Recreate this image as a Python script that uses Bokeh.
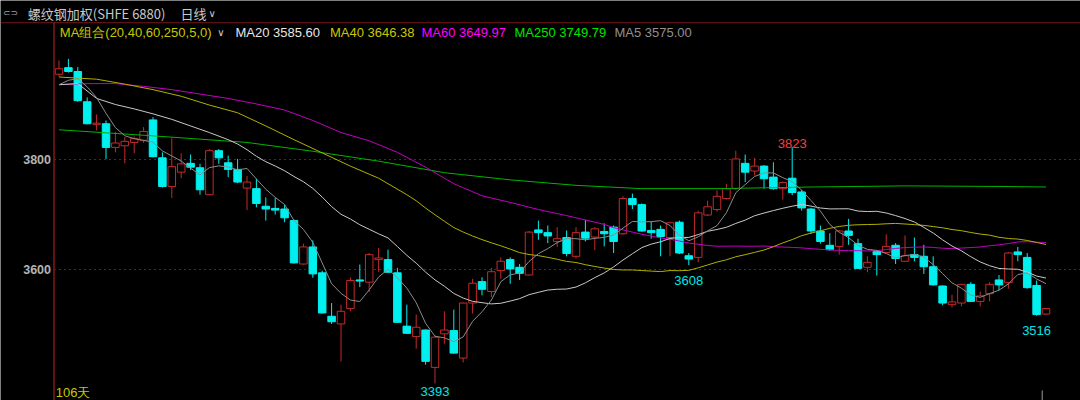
import numpy as np
from bokeh.plotting import figure
from bokeh.models import Range1d, ColumnDataSource, Label, BoxAnnotation
from bokeh.core.properties import value
from bokeh.embed import file_html
from bokeh.resources import INLINE

# ---------------- data ----------------
opens = [3955, 3967, 3960, 3905, 3864, 3865, 3822, 3825, 3831, 3835,
         3872, 3803, 3751, 3777, 3793, 3785, 3736, 3816, 3794, 3782,
         3748, 3747, 3715, 3711, 3710, 3689, 3610, 3641, 3594, 3515,
         3501, 3529, 3581, 3577, 3618, 3618, 3594, 3497, 3478, 3490,
         3422, 3483, 3489, 3439, 3539, 3578, 3560, 3598, 3618, 3604,
         3590, 3672, 3667, 3651, 3658, 3624, 3668, 3659, 3669, 3677,
         3665, 3729, 3718, 3671, 3673, 3658, 3686, 3625, 3622, 3699,
         3709, 3729, 3747, 3793, 3779, 3788, 3768, 3747, 3766, 3741,
         3710, 3670, 3644, 3642, 3670, 3647, 3604, 3633, 3631, 3644,
         3615, 3627, 3624, 3605, 3570, 3536, 3539, 3573, 3542, 3556,
         3581, 3576, 3632, 3622, 3571, 3519]
highs = [3980, 3983, 3968, 3913, 3882, 3871, 3850, 3841, 3842, 3859,
         3877, 3813, 3839, 3811, 3809, 3792, 3819, 3819, 3807, 3801,
         3770, 3765, 3731, 3730, 3718, 3691, 3647, 3653, 3598, 3539,
         3536, 3586, 3609, 3630, 3639, 3636, 3603, 3536, 3518, 3491,
         3480, 3524, 3527, 3540, 3583, 3586, 3603, 3622, 3622, 3610,
         3670, 3689, 3680, 3677, 3671, 3677, 3690, 3677, 3684, 3680,
         3733, 3738, 3720, 3687, 3680, 3687, 3689, 3630, 3707, 3725,
         3744, 3756, 3816, 3809, 3803, 3790, 3795, 3760, 3823, 3745,
         3712, 3680, 3666, 3672, 3692, 3656, 3624, 3635, 3664, 3648,
         3662, 3658, 3645, 3624, 3571, 3554, 3574, 3577, 3560, 3577,
         3590, 3632, 3641, 3630, 3580, 3530]
lows = [3951, 3958, 3905, 3864, 3853, 3801, 3813, 3793, 3811, 3830,
        3804, 3749, 3730, 3766, 3781, 3736, 3735, 3792, 3768, 3757,
        3708, 3713, 3689, 3700, 3686, 3611, 3609, 3585, 3520, 3501,
        3433, 3524, 3568, 3559, 3596, 3594, 3503, 3483, 3456, 3427,
        3393, 3465, 3447, 3431, 3520, 3553, 3550, 3583, 3574, 3581,
        3589, 3654, 3648, 3641, 3624, 3620, 3651, 3635, 3642, 3630,
        3663, 3710, 3668, 3656, 3624, 3624, 3628, 3608, 3613, 3697,
        3705, 3727, 3745, 3759, 3771, 3747, 3745, 3727, 3735, 3707,
        3665, 3647, 3634, 3627, 3645, 3601, 3595, 3589, 3630, 3610,
        3614, 3615, 3592, 3571, 3535, 3531, 3533, 3541, 3533, 3542,
        3562, 3565, 3615, 3565, 3516, 3517]
closes = [3965, 3960, 3907, 3865, 3866, 3822, 3830, 3833, 3838, 3851,
          3805, 3751, 3787, 3792, 3786, 3745, 3816, 3803, 3782, 3759,
          3759, 3720, 3710, 3708, 3694, 3612, 3641, 3592, 3521, 3505,
          3524, 3580, 3579, 3627, 3621, 3595, 3504, 3484, 3495, 3433,
          3477, 3490, 3448, 3539, 3575, 3564, 3596, 3615, 3601, 3593,
          3668, 3667, 3661, 3656, 3629, 3667, 3657, 3674, 3665, 3651,
          3729, 3718, 3670, 3667, 3660, 3685, 3630, 3619, 3703, 3714,
          3733, 3747, 3801, 3777, 3788, 3765, 3747, 3758, 3740, 3712,
          3670, 3651, 3636, 3670, 3662, 3602, 3613, 3627, 3642, 3620,
          3625, 3622, 3605, 3572, 3539, 3541, 3573, 3542, 3552, 3573,
          3572, 3630, 3627, 3567, 3518, 3529]

# moving-average values before each window is complete
ma5_head_idx = [0, 1, 2, 3]
ma5_head_val = [3936, 3944, 3947, 3932]
ma20_head_idx = [0, 2, 4, 6, 8, 10, 12, 14, 16, 18]
ma20_head_val = [3936, 3938, 3911, 3900, 3892, 3883, 3873, 3861, 3849, 3836]
ma40_head_idx = [0, 4, 7, 10, 13, 16, 19, 22, 25, 28, 31, 34, 37, 38]
ma40_head_val = [3950, 3946, 3937, 3927, 3915, 3899, 3885, 3861, 3836, 3812, 3788, 3766, 3736, 3725]
ma60_head_idx = [0, 3, 6, 9, 12, 15, 18, 21, 24, 27, 30, 33, 36, 39, 42, 45, 48, 51, 54, 57, 58]
ma60_head_val = [3936, 3938, 3938, 3933, 3927, 3919, 3911, 3901, 3890, 3871, 3849, 3834, 3813,
                 3786, 3756, 3734, 3722, 3709, 3698, 3686, 3682]
ma250_idx = [0, 10, 20, 27, 34, 41, 48, 55, 62, 70, 80, 90, 100, 105]
ma250_val = [3854, 3843, 3831, 3815, 3797, 3776, 3763, 3753, 3747, 3747, 3750, 3752, 3751, 3750]

ytick_values = [3600, 3800]
title_text = "螺纹钢加权(SHFE 6880)"
period_text = "日线"
combo_text = "MA组合(20,40,60,250,5,0)"
legend_names = ["MA20", "MA40", "MA60", "MA250", "MA5"]
legend_values = ["3585.60", "3646.38", "3649.97", "3749.79", "3575.00"]
day_count_text = "106天"
mark_idx = [40, 67, 78, 104]
mark_kind = ["low", "low", "high", "low"]

# ---------------- layout constants (pixels) ----------------
W, H = 1080, 400
STEP = 9.4          # pixels per candle
FIRST_PX = 58.5     # centre of the first candle
AXIS_PX = 53.5      # price-axis line
SEP_PX = 22.3       # separator under the title row
PX_PER_PRICE = 0.55
PRICE_AT_Y159 = 3800.0

UP = "#c42a2a"
DN = "#00f0f0"
RED_LINE = "#7a1818"

x_start = -FIRST_PX / STEP
x_end = (W - FIRST_PX) / STEP
y_end = PRICE_AT_Y159 + 159 / PX_PER_PRICE
y_start = PRICE_AT_Y159 - (H - 159) / PX_PER_PRICE
axis_x = (AXIS_PX - FIRST_PX) / STEP

p = figure(width=W, height=H, title=None,
           x_range=Range1d(x_start, x_end), y_range=Range1d(y_start, y_end),
           x_axis_location=None, y_axis_location=None,
           output_backend="svg", toolbar_location=None,
           min_border=0, min_border_left=0, min_border_right=0,
           min_border_top=0, min_border_bottom=0,
           background_fill_color="#000000", border_fill_color="#000000",
           outline_line_color=None)
p.grid.visible = False

def screen_box(left, right, bottom, top, color):
    p.add_layout(BoxAnnotation(left=left, right=right, bottom=bottom, top=top,
                               left_units="screen", right_units="screen",
                               bottom_units="screen", top_units="screen",
                               fill_color=color, fill_alpha=1.0, line_color=None))

# frame lines: separator under the title row, price-axis line, lower-pane cursor stub
screen_box(0, W, H - SEP_PX - 0.5, H - SEP_PX + 0.5, RED_LINE)
screen_box(AXIS_PX - 0.8, AXIS_PX + 0.8, 0, H - SEP_PX, RED_LINE)
screen_box(1041.2, 1042.2, 0, 10, "#9a9a9a")

# price grid lines and tick labels
nt = len(ytick_values)
p.segment(x0=[axis_x] * nt, y0=ytick_values, x1=[x_end] * nt, y1=ytick_values,
          line_color="#761818", line_dash="2 3", line_width=1)
p.text(x=[axis_x] * nt, y=ytick_values, text=[str(v) for v in ytick_values],
       x_offset=-3, text_align="right", text_baseline="middle",
       text_color="#b4b4b4", text_font=value("Liberation Sans"),
       text_font_size="12.5px", text_font_style="bold")

# candles
n = len(closes)
idx = np.arange(n)
o = np.array(opens, float); h = np.array(highs, float)
l = np.array(lows, float); c = np.array(closes, float)
up = c >= o
src = ColumnDataSource(dict(
    x=idx, high=h, low=l,
    top=np.maximum(o, c), bottom=np.minimum(o, c),
    color=[UP if u else DN for u in up],
    fill=["#000000" if u else DN for u in up],
))
p.segment(x0="x", y0="low", x1="x", y1="high", line_color="color", line_width=1, source=src)
p.vbar(x="x", width=0.8, top="top", bottom="bottom", fill_color="fill",
       line_color="color", line_width=1, source=src)

# moving averages
def sma(k):
    return np.convolve(c, np.ones(k) / k, mode="valid")

def ma_line(head_idx, head_val, k, color):
    xs = list(head_idx) + list(range(k - 1, n))
    ys = list(head_val) + list(sma(k))
    p.line(xs, ys, line_color=color, line_width=1)

p.line(ma250_idx, ma250_val, line_color="#00b400", line_width=1)
ma_line(ma60_head_idx, ma60_head_val, 60, "#c000c0")
ma_line(ma40_head_idx, ma40_head_val, 40, "#b0b000")
ma_line(ma20_head_idx, ma20_head_val, 20, "#c8c8c8")
ma_line(ma5_head_idx, ma5_head_val, 5, "#8c8c8c")

# extreme-value marks
mv = [l[i] if k == "low" else h[i] for i, k in zip(mark_idx, mark_kind)]
msrc = ColumnDataSource(dict(
    x=mark_idx, y=mv, t=[str(int(v)) for v in mv],
    col=["#ff3c3c" if k == "high" else "#00e6e6" for k in mark_kind],
    off=[-3.4 if k == "high" else (8.0 if v < 3400 else 15.0) for k, v in zip(mark_kind, mv)],
))
p.text(x="x", y="y", text="t", text_color="col", y_offset="off", source=msrc,
       text_align="center", text_baseline="alphabetic",
       text_font=value("Liberation Sans"), text_font_size="13px")

# header, legend row and day count (screen units: from left / from bottom)
def lab(x, y_from_top, text, color, size="13px", font="Liberation Sans", baseline="middle"):
    p.add_layout(Label(x=x, y=H - y_from_top, x_units="screen", y_units="screen", text=text,
                       text_color=color, text_font=font, text_font_size=size,
                       text_baseline=baseline, text_align="left"))

lab(2.5, 12.7, "⊂⊃", "#a0a0a0", size="9px", font="DejaVu Sans")
lab(27.3, 12.5, title_text, "#c8c8c8", size="13px", font="Noto Sans CJK SC")
lab(180, 12.5, period_text, "#c8c8c8", size="13px", font="Noto Sans CJK SC")
lab(208, 12.5, "∨", "#c8c8c8", size="10px", font="DejaVu Sans")

LEG_Y = 31.7
lab(59.3, LEG_Y, combo_text, "#c8c800")
lab(216.7, LEG_Y, "∨", "#d0d0d0", size="10px", font="DejaVu Sans")
legend_x = [235, 329.5, 421, 514, 614]
legend_col = ["#e6e6e6", "#c8c800", "#ff00ff", "#00e600", "#909090"]
for xx, nm, vv, cc in zip(legend_x, legend_names, legend_values, legend_col):
    lab(xx, LEG_Y, nm + " " + vv, cc)

lab(55.3, H - 1, day_count_text, "#c8c800", baseline="bottom")

open("out.html", "w").write(file_html(p, INLINE))
